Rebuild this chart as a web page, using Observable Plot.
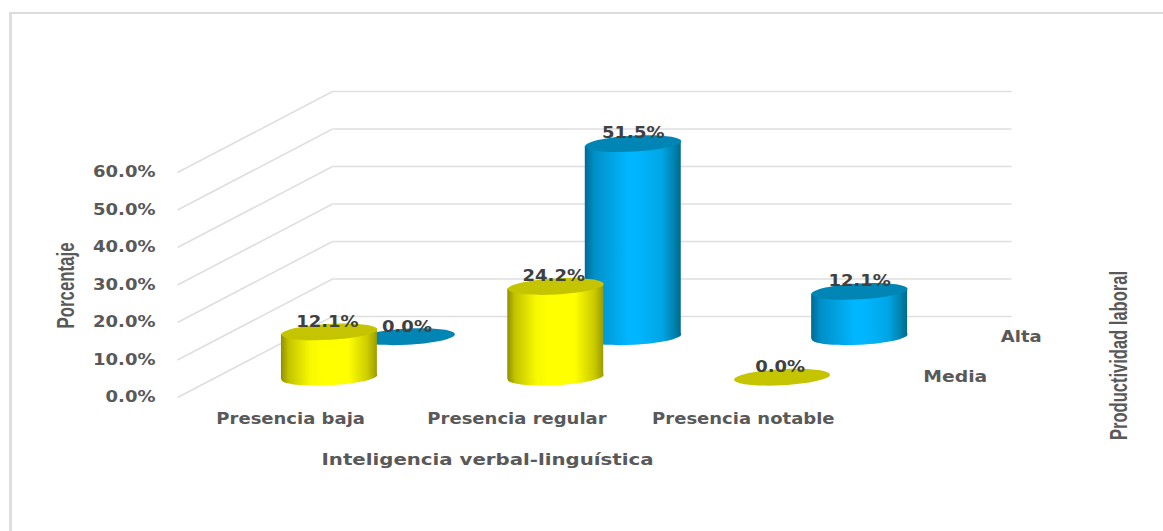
<!DOCTYPE html>
<html>
<head>
<meta charset="utf-8">
<script src="https://cdn.jsdelivr.net/npm/d3@7"></script>
<script src="https://cdn.jsdelivr.net/npm/@observablehq/plot@0.6"></script>
<style>
html,body{margin:0;padding:0;background:#fff;overflow:hidden}
#frame{position:absolute;left:9px;top:12px;right:0;bottom:0;border-left:3px solid #dedede;border-top:2.5px solid #dcdcdc;box-sizing:border-box}
#chart{position:absolute;left:0;top:0}
svg{background:transparent!important}
</style>
</head>
<body>
<div id="frame"></div>
<div id="chart"></div>
<script>
const categories = ["Presencia baja", "Presencia regular", "Presencia notable"];
const media = [12.1, 24.2, 0.0];
const alta = [0.0, 51.5, 12.1];
const yTicks = [0, 10, 20, 30, 40, 50, 60];

// oblique 3D projection, expressed in scale units
const DEPTH_X = 0.685, DEPTH_Y = 21.6;
const RADIUS = 0.212, TILT = 0.67;
const project = (cat, value, depth) => ({x: cat + depth * DEPTH_X, y: value + depth * DEPTH_Y});

const makeRows = (values, depth) => values.map((value, i) => {
  const base = project(i, 0, depth), top = project(i, value, depth);
  return {i, value, x: base.x, base: base.y, top: top.y};
});
const sideRows = rows => rows.filter(d => d.value > 0).flatMap(d => [
  {i: d.i, x: d.x - RADIUS, y1: d.base - TILT, y2: d.top - TILT},
  {i: d.i, x: d.x + RADIUS, y1: d.base + TILT, y2: d.top + TILT}
]);

// flat tilted ellipse used as the cap of a cylinder
const ellipse = {
  draw(ctx, size) {
    const a = Math.sqrt(size / Math.PI), b = a / 6, k = 0.5523, t = -3 * Math.PI / 180;
    const c = Math.cos(t), s = Math.sin(t);
    const P = (u, v) => [u * c - v * s, u * s + v * c];
    ctx.moveTo(...P(a, 0));
    ctx.bezierCurveTo(...P(a, k * b), ...P(k * a, b), ...P(0, b));
    ctx.bezierCurveTo(...P(-k * a, b), ...P(-a, k * b), ...P(-a, 0));
    ctx.bezierCurveTo(...P(-a, -k * b), ...P(-k * a, -b), ...P(0, -b));
    ctx.bezierCurveTo(...P(k * a, -b), ...P(a, -k * b), ...P(a, 0));
    ctx.closePath();
  }
};

const gradient = (id, stops) => () => {
  const defs = d3.create("svg:defs");
  const g = defs.append("linearGradient").attr("id", id).attr("x1", 0).attr("x2", 1).attr("y1", 0).attr("y2", 0);
  stops.forEach(([o, col]) => g.append("stop").attr("offset", o).attr("stop-color", col));
  return defs.node();
};

const cylinders = (rows, grad, capColor) => [
  Plot.dot(rows.filter(d => d.value > 0), {x: "x", y: "base", r: 48, symbol: ellipse, fill: `url(#${grad})`}),
  Plot.areaY(sideRows(rows), {x: "x", y1: "y1", y2: "y2", z: "i", fill: `url(#${grad})`}),
  Plot.dot(rows, {x: "x", y: "top", r: 48, symbol: ellipse, fill: capColor})
];
const labels = (rows, dx) => Plot.text(rows, {
  x: "x", y: "top", text: d => d.value.toFixed(1) + "%", dy: -10, dx,
  fontSize: 15, fontWeight: 700, fill: "#404040", fontFamily: "DejaVu Sans"
});

const mediaRows = makeRows(media, 0.25), altaRows = makeRows(alta, 0.75);
const wallRows = yTicks.map(v => {
  const a = project(-0.5, v, 0), b = project(-0.5, v, 1), c = project(2.5, v, 1);
  return {ax: a.x, ay: a.y, bx: b.x, by: b.y, cx: c.x, cy: c.y};
});
const gridStyle = {stroke: "#dfdfdf", strokeWidth: 1.6};
const textStyle = {fontFamily: "DejaVu Sans", fontWeight: 700, fill: "#595959", fontSize: 15};
const titleStyle = {frameAnchor: "top-left", textAnchor: "middle", lineAnchor: "middle", fill: "#595959", fontWeight: 700};
const seriesLabels = [{t: "Media", ...project(2.5, 0, 0.25)}, {t: "Alta", ...project(2.5, 0, 0.75)}];

const chart = Plot.plot({
  width: 1163, height: 531,
  marginLeft: 177, marginRight: 307, marginTop: 172, marginBottom: 134,
  style: {background: "transparent"},
  x: {domain: [-0.5, 2.5]},
  y: {domain: [0, 60]},
  marks: [
    gradient("gradYellow", [[0, "#8f8f00"], [0.08, "#c4c400"], [0.3, "#f8f800"], [0.42, "#ffff00"], [0.7, "#ffff00"], [0.9, "#cccc00"], [1, "#9c9c00"]]),
    gradient("gradBlue", [[0, "#006a94"], [0.1, "#0090c8"], [0.45, "#00b6ff"], [0.55, "#00b6ff"], [0.8, "#00a6e6"], [0.94, "#0080aa"], [1, "#006a90"]]),
    Plot.link(wallRows, {x1: "ax", y1: "ay", x2: "bx", y2: "by", ...gridStyle}),
    Plot.link(wallRows, {x1: "bx", y1: "by", x2: "cx", y2: "cy", ...gridStyle}),
    Plot.axisY({ticks: yTicks, tickSize: 0, tickPadding: 22, tickFormat: d => d.toFixed(1) + "%", label: null, ...textStyle}),
    Plot.axisX({ticks: [0, 1, 2], tickSize: 0, tickPadding: 16, tickFormat: i => categories[i], label: null, ...textStyle}),
    ...cylinders(altaRows, "gradBlue", "#0085b5"),
    ...cylinders(mediaRows, "gradYellow", "#c4c400"),
    labels(altaRows, 0),
    labels(mediaRows, -2),
    Plot.text(seriesLabels, {x: "x", y: "y", text: "t", dx: 28, textAnchor: "start", ...textStyle}),
    Plot.text(["Inteligencia verbal-linguística"], {...titleStyle, dx: 310, dy: 288, fontFamily: "DejaVu Sans", fontSize: 15.5}),
    Plot.text(["Porcentaje"], {...titleStyle, dx: -111, dy: 113, rotate: -90, fontFamily: "Liberation Sans", fontSize: 23}),
    Plot.text(["Productividad laboral"], {...titleStyle, dx: 942, dy: 183, rotate: -90, fontFamily: "Liberation Sans", fontSize: 23})
  ]
});
document.getElementById("chart").append(chart);

// The reference's text is horizontally stretched: fit glyph runs to their measured widths.
const fixedLength = {"Porcentaje": 86, "Productividad laboral": 169, "Inteligencia verbal-linguística": 332, "Media": 64};
chart.querySelectorAll("text").forEach(t => {
  const s = t.textContent.trim();
  const len = fixedLength[s] ?? t.getComputedTextLength() * 1.2;
  t.setAttribute("textLength", len);
  t.setAttribute("lengthAdjust", "spacingAndGlyphs");
});
</script>
</body>
</html>
